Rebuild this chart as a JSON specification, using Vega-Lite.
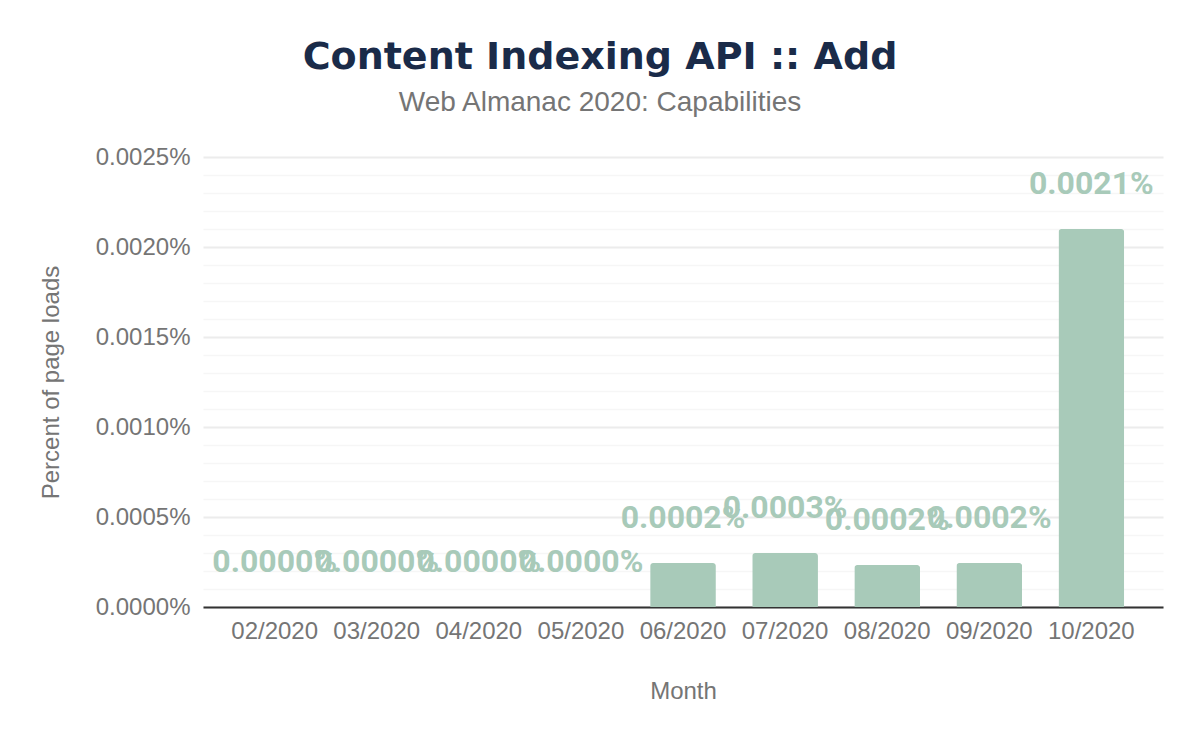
{
  "$schema": "https://vega.github.io/schema/vega-lite/v6.json",
  "autosize": {"type": "none"},
  "width": 960,
  "height": 450,
  "padding": {"left": 203, "top": 157, "right": 37, "bottom": 135},
  "background": "white",
  "config": {"view": {"stroke": null}},
  "title": {
    "text": "Content Indexing API :: Add",
    "subtitle": "Web Almanac 2020: Capabilities",
    "anchor": "middle",
    "dx": -83,
    "offset": 28,
    "font": "DejaVu Sans",
    "fontWeight": "bold",
    "fontSize": 38,
    "color": "#1a2b49",
    "subtitleFont": "Liberation Sans",
    "subtitleFontSize": 28,
    "subtitleColor": "#757575",
    "subtitlePadding": 12
  },
  "data": {
    "values": [
      {"month": "02/2020", "value": 0, "label": "0.0000%"},
      {"month": "03/2020", "value": 0, "label": "0.0000%"},
      {"month": "04/2020", "value": 0, "label": "0.0000%"},
      {"month": "05/2020", "value": 0, "label": "0.0000%"},
      {"month": "06/2020", "value": 0.000244, "label": "0.0002%"},
      {"month": "07/2020", "value": 0.0003, "label": "0.0003%"},
      {"month": "08/2020", "value": 0.000233, "label": "0.0002%"},
      {"month": "09/2020", "value": 0.000244, "label": "0.0002%"},
      {"month": "10/2020", "value": 0.0021, "label": "0.0021%"}
    ]
  },
  "encoding": {
    "x": {
      "field": "month",
      "type": "ordinal",
      "sort": null,
      "title": "Month",
      "scale": {"paddingInner": 0.356, "paddingOuter": 0.38},
      "axis": {
        "labelAngle": 0,
        "labelFont": "Liberation Sans",
        "labelFontSize": 24,
        "labelColor": "#757575",
        "labelPadding": 12,
        "ticks": false,
        "domain": true,
        "domainColor": "#333333",
        "domainWidth": 2,
        "grid": false,
        "titleFont": "Liberation Sans",
        "titleFontSize": 24,
        "titleFontWeight": "normal",
        "titleColor": "#757575",
        "titlePadding": 36
      }
    },
    "y": {
      "field": "value",
      "type": "quantitative",
      "title": "Percent of page loads",
      "scale": {"domain": [0, 0.0025], "nice": false},
      "axis": {
        "values": [0, 0.0001, 0.0002, 0.0003, 0.0004, 0.0005, 0.0006, 0.0007, 0.0008, 0.0009, 0.001, 0.0011, 0.0012, 0.0013, 0.0014, 0.0015, 0.0016, 0.0017, 0.0018, 0.0019, 0.002, 0.0021, 0.0022, 0.0023, 0.0024, 0.0025],
        "labelExpr": "round(datum.value * 10000) % 5 == 0 ? format(datum.value, '.4f') + '%' : ''",
        "labelFont": "Liberation Sans",
        "labelFontSize": 24,
        "labelColor": "#757575",
        "labelPadding": 13,
        "ticks": false,
        "domain": false,
        "grid": true,
        "gridColor": {"condition": {"test": "round(datum.value * 10000) % 5 == 0", "value": "#ececec"}, "value": "#f6f6f6"},
        "gridWidth": {"condition": {"test": "round(datum.value * 10000) % 5 == 0", "value": 2}, "value": 1.5},
        "titleFont": "Liberation Sans",
        "titleFontSize": 24,
        "titleFontWeight": "normal",
        "titleColor": "#757575",
        "titlePadding": 32
      }
    }
  },
  "layer": [
    {
      "mark": {"type": "bar", "color": "#a8cab9", "cornerRadiusTopLeft": 3, "cornerRadiusTopRight": 3}
    },
    {
      "mark": {"type": "text", "color": "#a8cab9", "font": "Roboto", "fontWeight": "bold", "fontSize": 32, "baseline": "alphabetic", "dy": -35},
      "encoding": {
        "text": {"field": "label", "type": "nominal"}
      }
    }
  ]
}
